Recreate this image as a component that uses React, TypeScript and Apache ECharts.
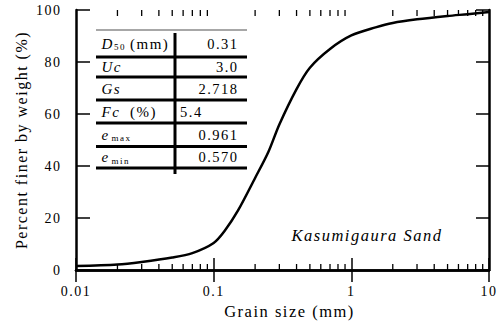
import React, { useEffect, useRef } from "react";
import * as echarts from "echarts";

// Grain size distribution curve
const grainSize = [0.01, 0.02, 0.03, 0.05, 0.07, 0.1, 0.12, 0.15, 0.2, 0.25, 0.3, 0.4, 0.5, 0.7, 1, 1.5, 2, 3, 5, 7, 10];
const percentFiner = [1.5, 2.1, 3.1, 4.8, 6.5, 10.4, 15.0, 22.8, 35.4, 45.5, 56.0, 69.6, 77.8, 85.0, 90.2, 93.3, 95.0, 96.4, 97.7, 98.4, 99.2];

// Axis ticks
const xTickLabels = ["0.01", "0.1", "1", "10"];
const yTicks = [0, 20, 40, 60, 80, 100];
const minorTickValues = [
  0.02, 0.03, 0.04, 0.05, 0.06, 0.07, 0.08, 0.09,
  0.2, 0.3, 0.4, 0.5, 0.6, 0.7, 0.8, 0.9,
  2, 3, 4, 5, 6, 7, 8, 9,
];

// Soil properties table: symbol, subscript, unit, value
const propSymbols = ["D", "Uc", "Gs", "Fc", "e", "e"];
const propSubscripts = ["50", "", "", "", "max", "min"];
const propUnits = ["(mm)", "", "", "(%)", "", ""];
const propValues = ["0.31", "3.0", "2.718", "5.4", "0.961", "0.570"];
const sampleName = "Kasumigaura Sand";

const FONT = "Liberation Serif, Times New Roman, serif";

export default function App() {
  const ref = useRef<HTMLDivElement>(null);

  useEffect(() => {
    if (!ref.current) return;
    const chart = echarts.init(ref.current, undefined, { renderer: "svg" });

    const tableLeft = 96;
    const tableRight = 247;
    const divX = 175;
    const rowLines = [57, 77, 100, 123, 146.5, 168];
    const rowCenters = [43.5, 67, 88.5, 111.5, 134.7, 157.3];

    const txt = (x: number, y: number, text: string, extra: any = {}) => ({
      type: "text",
      x,
      y,
      style: {
        text,
        fontFamily: FONT,
        fontSize: 15,
        fill: "#000",
        textAlign: "left",
        textVerticalAlign: "middle",
        ...extra,
      },
    });

    const tableEls: any[] = [];
    tableEls.push({
      type: "line",
      shape: { x1: tableLeft, y1: 30, x2: tableRight, y2: 30 },
      style: { stroke: "#8a8a8a", lineWidth: 1.5 },
    });
    rowLines.forEach((y) =>
      tableEls.push({
        type: "line",
        shape: { x1: tableLeft, y1: y, x2: tableRight, y2: y },
        style: { stroke: "#000", lineWidth: 3 },
      })
    );
    tableEls.push({
      type: "line",
      shape: { x1: divX, y1: 33, x2: divX, y2: 174 },
      style: { stroke: "#000", lineWidth: 3 },
    });
    propSymbols.forEach((sym, k) => {
      const cy = rowCenters[k];
      tableEls.push(txt(101.5, cy, sym, { fontStyle: "italic" }));
      if (propSubscripts[k]) {
        const subX = sym === "D" ? 114 : 111.5;
        tableEls.push(txt(subX, cy + 3.5, propSubscripts[k], { fontSize: 9, letterSpacing: 0 }));
      }
      if (propUnits[k]) {
        tableEls.push(txt(130, cy, propUnits[k]));
      }
      const isFc = sym === "Fc";
      tableEls.push(
        txt(isFc ? 180 : 238.5, cy, propValues[k], {
          fontSize: 14.5,
          textAlign: isFc ? "left" : "right",
        })
      );
    });
    tableEls.push(
      txt(367, 235, sampleName, {
        fontStyle: "italic",
        fontSize: 16.5,
        textAlign: "center",
      })
    );

    const axisLine = { show: true, lineStyle: { color: "#000", width: 2.5 } };
    const tickStyle = { color: "#000", width: 1.5 };

    chart.setOption({
      animation: false,
      textStyle: { fontFamily: FONT },
      grid: { left: 76, right: 15, top: 10, bottom: 55 },
      xAxis: [
        {
          type: "log",
          logBase: 10,
          min: 0.01,
          max: 10,
          position: "bottom",
          axisLine,
          axisTick: { show: true, inside: true, length: 12, lineStyle: tickStyle },
          splitLine: { show: false },
          axisLabel: {
            fontFamily: FONT,
            fontSize: 14,
            color: "#000",
            margin: 14,
            formatter: (v: number) => xTickLabels[Math.round(Math.log10(v)) + 2] ?? "",
          },
          name: "Grain size (mm)",
          nameLocation: "middle",
          nameGap: 32,
          nameTextStyle: { fontFamily: FONT, fontSize: 16.5, color: "#000", padding: [0, 0, 0, 14] },
        },
        {
          type: "log",
          logBase: 10,
          min: 0.01,
          max: 10,
          position: "top",
          axisLine,
          axisTick: { show: true, inside: true, length: 12, lineStyle: tickStyle },
          splitLine: { show: false },
          axisLabel: { show: false },
        },
      ],
      yAxis: [
        {
          type: "value",
          min: yTicks[0],
          max: yTicks[yTicks.length - 1],
          interval: 20,
          position: "left",
          axisLine,
          axisTick: { show: true, inside: true, length: 14, lineStyle: tickStyle },
          splitLine: { show: false },
          axisLabel: { fontFamily: FONT, fontSize: 14, color: "#000", margin: 14.5 },
          name: "Percent finer by weight (%)",
          nameLocation: "middle",
          nameGap: 37,
          nameTextStyle: { fontFamily: FONT, fontSize: 16, color: "#000" },
        },
        {
          type: "value",
          min: yTicks[0],
          max: yTicks[yTicks.length - 1],
          interval: 20,
          position: "right",
          axisLine,
          axisTick: { show: true, inside: true, length: 13, lineStyle: tickStyle },
          splitLine: { show: false },
          axisLabel: { show: false },
        },
      ],
      series: [
        {
          type: "custom",
          xAxisIndex: 0,
          yAxisIndex: 0,
          silent: true,
          clip: false,
          data: minorTickValues.map((v) => [v, 0]),
          renderItem: (_params: any, api: any) => {
            const v = api.value(0);
            const b = api.coord([v, 0]);
            const t = api.coord([v, 100]);
            const style = { stroke: "#000", lineWidth: 1.3 };
            return {
              type: "group",
              children: [
                { type: "line", shape: { x1: b[0], y1: b[1], x2: b[0], y2: b[1] - 6 }, style },
                { type: "line", shape: { x1: t[0], y1: t[1], x2: t[0], y2: t[1] + 6 }, style },
              ],
            };
          },
        },
        {
          type: "line",
          xAxisIndex: 0,
          yAxisIndex: 0,
          data: grainSize.map((g, k) => [g, percentFiner[k]]),
          showSymbol: false,
          smooth: 0.3,
          lineStyle: { color: "#000", width: 2.5 },
        },
      ],
      graphic: tableEls,
    });

    return () => chart.dispose();
  }, []);

  return (
    <div
      ref={ref}
      style={{
        position: "fixed",
        left: 0,
        top: 0,
        width: 504,
        height: 325,
        background: "#fff",
        letterSpacing: "1.5px",
      }}
    />
  );
}
